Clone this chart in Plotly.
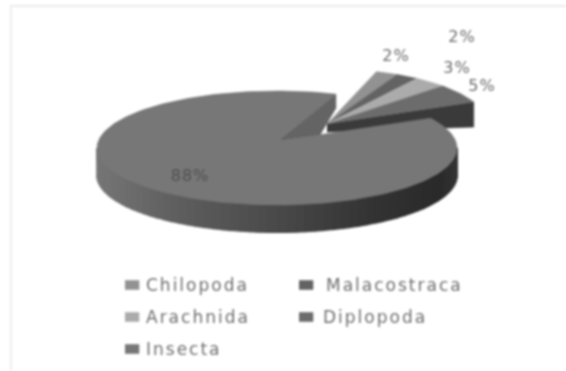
import numpy as np
import plotly.graph_objects as go

# ---- data ----
categories = ["Chilopoda", "Malacostraca", "Arachnida", "Diplopoda", "Insecta"]
percent_values = [2, 2, 3, 5, 88]
top_colors = ["#929292", "#636363", "#ababab", "#6c6c6c", "#777777"]
label_xy = [(396, 57), (462, 38), (457, 69), (482, 87), (190, 177)]
label_colors = ["#6a6a6a", "#6a6a6a", "#6a6a6a", "#6a6a6a", "#505050"]

# ---- geometry of the projected pie (pixel space) ----
W, H = 566, 371
MAIN_C = (277.0, 148.0); MAIN_R = (180.0, 57.0); MAIN_APEX = (278.0, 141.0); MAIN_DEPTH = 27.0
EXP_C = (327.0, 124.0); EXP_R = (160.0, 55.0); EXP_DEPTH = 25.0; EXP_APEX_DEPTH = 8.0
EXP_START = 18.0; EXP_STRETCH = 48.5 / 43.2
MAIN_START = 58.5; MAIN_STRETCH = 320.6 / 316.8


def arc(c, r, a0, a1, n=90):
    t = np.radians(np.linspace(a0, a1, n))
    return c[0] + r[0] * np.sin(t), c[1] - r[1] * np.cos(t)


def poly(x, y, color, width=0.6):
    return go.Scatter(x=list(x), y=list(y), mode="lines", fill="toself", fillcolor=color,
                      line=dict(color=color, width=width), hoverinfo="skip", showlegend=False)


fig = go.Figure()

# exploded slices (all but the last)
angles = [EXP_START]
for v in percent_values[:-1]:
    angles.append(angles[-1] + v * 3.6 * EXP_STRETCH)

ox, oy = arc(EXP_C, EXP_R, angles[-1], angles[-1], 1)
fig.add_trace(poly([EXP_C[0], ox[0], ox[0], EXP_C[0]],
                   [EXP_C[1], oy[0], oy[0] + EXP_DEPTH, EXP_C[1] + EXP_APEX_DEPTH], "#3a3a3a"))
for i, col in enumerate(top_colors[:-1]):
    ax, ay = arc(EXP_C, EXP_R, angles[i], angles[i + 1], 20)
    fig.add_trace(poly([EXP_C[0], *ax], [EXP_C[1], *ay], col))

# main slice: curved wall with a gradient
wall_x = np.array([0.0, 0.25, 0.5, 0.75, 0.95, 1.0])
wall_g = np.array([118, 92, 74, 52, 42, 52])
steps = np.linspace(270, 90, 61)
for a0, a1 in zip(steps[:-1], steps[1:]):
    tx, ty = arc(MAIN_C, MAIN_R, a0, a1, 5)
    frac = (tx.mean() - (MAIN_C[0] - MAIN_R[0])) / (2 * MAIN_R[0])
    g = int(np.interp(frac, wall_x, wall_g))
    fig.add_trace(poly([*tx, *tx[::-1]], [*ty, *(ty[::-1] + MAIN_DEPTH)], f"rgb({g},{g},{g})", 2))

# main slice: top face
a0 = MAIN_START
a1 = MAIN_START + percent_values[-1] * 3.6 * MAIN_STRETCH
mx, my = arc(MAIN_C, MAIN_R, a0, a1, 240)
fig.add_trace(poly([MAIN_APEX[0], *mx], [MAIN_APEX[1], *my], top_colors[-1]))

# main slice: inner cut wall
fig.add_trace(poly([MAIN_APEX[0], mx[-1], mx[-1], 320],
                   [MAIN_APEX[1], my[-1], my[-1] + 14, 135], "#646464"))

# percent labels
for v, (lx, ly), c in zip(percent_values, label_xy, label_colors):
    fig.add_trace(go.Scatter(x=[lx], y=[ly], mode="text", text=[f"{v}%"],
                             textposition="middle center", hoverinfo="skip", showlegend=False,
                             textfont=dict(family="DejaVu Sans", size=16, color=c)))

# legend block
legend_cols = [132, 306]
legend_rows = [285, 317, 349]
legend_text_gap = [14, 20, 14, 17, 14]
for i, (name, col) in enumerate(zip(categories, top_colors)):
    lx = legend_cols[i % 2]
    ly = legend_rows[i // 2]
    fig.add_trace(poly([lx - 7, lx + 7, lx + 7, lx - 7], [ly - 4.5, ly - 4.5, ly + 4.5, ly + 4.5], col))
    fig.add_trace(go.Scatter(x=[lx + legend_text_gap[i]], y=[ly + 2], mode="text", text=[name],
                             textposition="middle right", hoverinfo="skip", showlegend=False,
                             textfont=dict(family="DejaVu Sans", size=17, color="#6e6e6e")))

# faint frame of the picture
fig.add_shape(type="line", x0=10, x1=W, y0=6, y1=6, line=dict(color="#ebebeb", width=2))
fig.add_shape(type="line", x0=11, x1=11, y0=6, y1=H, line=dict(color="#eeeeee", width=2))

fig.update_layout(
    width=W, height=H, margin=dict(l=0, r=0, t=0, b=0),
    paper_bgcolor="white", plot_bgcolor="white", showlegend=False,
    xaxis=dict(range=[0, W], visible=False, fixedrange=True),
    yaxis=dict(range=[H, 0], visible=False, fixedrange=True),
)
post = """
document.documentElement.style.overflow='hidden';
document.body.style.margin='0';
document.querySelectorAll('.textpoint text').forEach(function(t){
  t.style.letterSpacing = t.textContent.indexOf('%')>=0 ? '1px' : '2px';
});
document.querySelector('.plotly-graph-div').style.filter='blur(1px)';
"""
fig.write_html("out.html", config={"displayModeBar": False}, post_script=post)
